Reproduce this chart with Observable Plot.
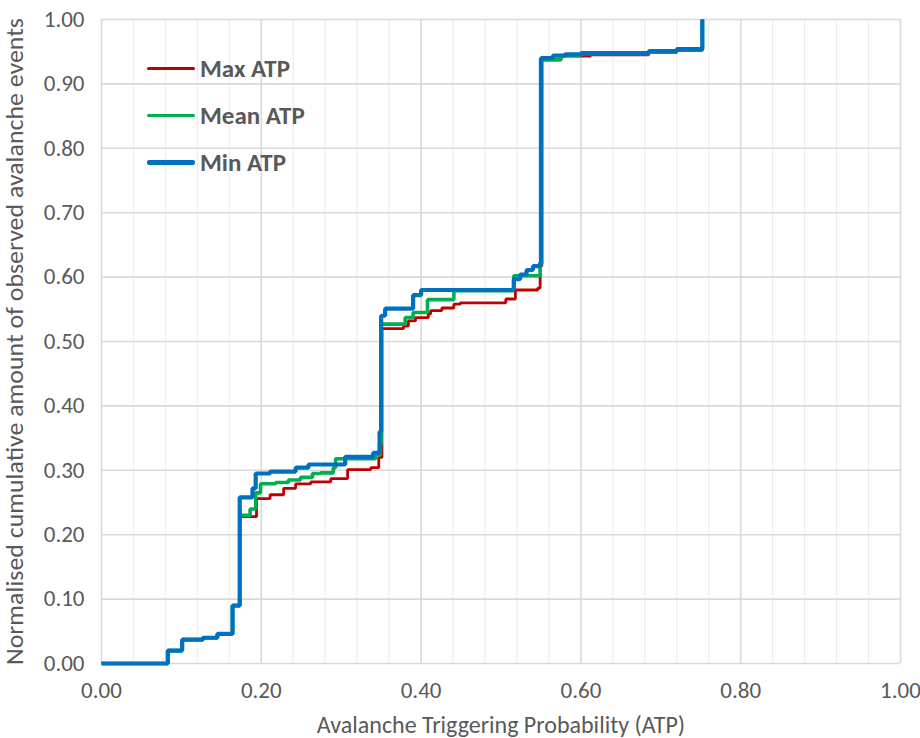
<!DOCTYPE html>
<html>
<head>
<meta charset="utf-8">
<script src="https://cdn.jsdelivr.net/npm/d3@7"></script>
<script src="https://cdn.jsdelivr.net/npm/@observablehq/plot@0.6"></script>
<style>
  html, body { margin: 0; padding: 0; background: #fff; }
  #wrap { position: relative; width: 920px; height: 738px; font-family: Carlito, "Liberation Sans Narrow", "Liberation Sans", sans-serif; }
  .legend { position: absolute; left: 147px; top: 45px; }
  .legend .item { display: flex; align-items: center; height: 47px; }
  .legend .sw { width: 48px; margin-right: 5px; border-radius: 2px; }
  .legend .lbl { font-weight: bold; font-size: 25px; color: #595959; }
</style>
</head>
<body>
<div id="wrap"></div>
<script>
// ---- data ----
const seriesNames = ["Max ATP", "Mean ATP", "Min ATP"];
const seriesColors = ["#C00000", "#00B050", "#0070C0"];
const seriesWidths = [2.8, 3.6, 4.2];

const maxX = [0, 0.083, 0.101, 0.127, 0.145, 0.164, 0.173, 0.194, 0.211, 0.228, 0.243, 0.262, 0.287, 0.308, 0.337, 0.347, 0.351, 0.378, 0.384, 0.393, 0.409, 0.412, 0.426, 0.441, 0.449, 0.506, 0.518, 0.546, 0.549, 0.551, 0.575, 0.612, 0.685, 0.720, 0.752];
const maxY = [0, 0.020, 0.037, 0.040, 0.046, 0.090, 0.228, 0.256, 0.262, 0.272, 0.279, 0.282, 0.287, 0.301, 0.304, 0.320, 0.520, 0.524, 0.532, 0.537, 0.543, 0.548, 0.552, 0.558, 0.560, 0.566, 0.580, 0.583, 0.617, 0.937, 0.943, 0.945, 0.949, 0.952, 1.0];

const meanX = [0, 0.083, 0.101, 0.127, 0.145, 0.164, 0.173, 0.186, 0.193, 0.199, 0.218, 0.234, 0.249, 0.264, 0.274, 0.290, 0.293, 0.343, 0.349, 0.350, 0.380, 0.390, 0.408, 0.441, 0.516, 0.549, 0.551, 0.575, 0.600, 0.685, 0.720, 0.752];
const meanY = [0, 0.020, 0.037, 0.040, 0.046, 0.090, 0.230, 0.240, 0.265, 0.279, 0.281, 0.285, 0.289, 0.295, 0.296, 0.304, 0.318, 0.324, 0.340, 0.527, 0.537, 0.545, 0.565, 0.579, 0.602, 0.620, 0.938, 0.944, 0.947, 0.950, 0.953, 1.0];

const minX = [0, 0.083, 0.101, 0.127, 0.145, 0.164, 0.173, 0.189, 0.193, 0.211, 0.243, 0.259, 0.305, 0.340, 0.348, 0.350, 0.355, 0.390, 0.400, 0.516, 0.524, 0.532, 0.540, 0.549, 0.550, 0.565, 0.580, 0.600, 0.685, 0.720, 0.752];
const minY = [0, 0.020, 0.037, 0.040, 0.046, 0.090, 0.258, 0.272, 0.295, 0.298, 0.304, 0.309, 0.321, 0.327, 0.360, 0.540, 0.551, 0.572, 0.580, 0.597, 0.604, 0.611, 0.617, 0.622, 0.940, 0.944, 0.946, 0.948, 0.951, 0.954, 1.0];

const xTicks = [0, 0.2, 0.4, 0.6, 0.8, 1.0];
const xMinor = [0.04, 0.08, 0.12, 0.16, 0.24, 0.28, 0.32, 0.36, 0.44, 0.48, 0.52, 0.56, 0.64, 0.68, 0.72, 0.76, 0.84, 0.88, 0.92, 0.96];
const yTicks = [0, 0.1, 0.2, 0.3, 0.4, 0.5, 0.6, 0.7, 0.8, 0.9, 1.0];

const xTitle = "Avalanche Triggering Probability (ATP)";
const yTitle = "Normalised cumulative amount of observed avalanche events";

// ---- build table ----
const allX = [maxX, meanX, minX];
const allY = [maxY, meanY, minY];
const rows = [];
seriesNames.forEach((name, i) => {
  allX[i].forEach((x, j) => rows.push({series: name, x, y: allY[i][j]}));
});

const fmt = d3.format(".2f");
const lines = seriesNames.map((name, i) =>
  Plot.line(rows.filter(d => d.series === name), {
    x: "x", y: "y", curve: "step-after",
    stroke: seriesColors[i], strokeWidth: seriesWidths[i],
    strokeLinejoin: "miter", strokeLinecap: "butt"
  })
);

const chart = Plot.plot({
  width: 920,
  height: 738,
  marginLeft: 101,
  marginRight: 20,
  marginTop: 19,
  marginBottom: 75,
  style: {fontFamily: 'Carlito, "Liberation Sans Narrow", "Liberation Sans", sans-serif', background: "#fff"},
  x: {domain: [0, 1]},
  y: {domain: [0, 1]},
  marks: [
    Plot.ruleX(xMinor, {stroke: "#EFEFEF", strokeWidth: 1.3}),
    Plot.ruleX(xTicks, {stroke: "#D9D9D9", strokeWidth: 1.6}),
    Plot.ruleY(yTicks, {stroke: "#D9D9D9", strokeWidth: 1.6}),
    Plot.axisX(xTicks, {tickSize: 0, tickPadding: 18, tickFormat: fmt, fontSize: 23, color: "#595959",
      label: xTitle, labelAnchor: "center", labelOffset: 69, labelArrow: "none"}),
    Plot.axisY(yTicks, {tickSize: 0, tickPadding: 17, tickFormat: fmt, fontSize: 23, color: "#595959",
      label: yTitle, labelAnchor: "center", labelOffset: 96, labelArrow: "none"}),
    ...lines
  ]
});

const wrap = document.getElementById("wrap");
wrap.appendChild(chart);

// axis title sizes
d3.select(chart).selectAll("g[aria-label='x-axis label'] text").style("font-size", "24px");
d3.select(chart).selectAll("g[aria-label='y-axis label'] text").style("font-size", "24px")
  .attr("textLength", 647).attr("lengthAdjust", "spacingAndGlyphs");

// legend overlay
const legend = document.createElement("div");
legend.className = "legend";
seriesNames.forEach((name, i) => {
  const item = document.createElement("div");
  item.className = "item";
  const sw = document.createElement("div");
  sw.className = "sw";
  sw.style.height = seriesWidths[i] + "px";
  sw.style.background = seriesColors[i];
  const lbl = document.createElement("div");
  lbl.className = "lbl";
  lbl.textContent = name;
  item.appendChild(sw); item.appendChild(lbl);
  legend.appendChild(item);
});
wrap.appendChild(legend);
</script>
</body>
</html>
